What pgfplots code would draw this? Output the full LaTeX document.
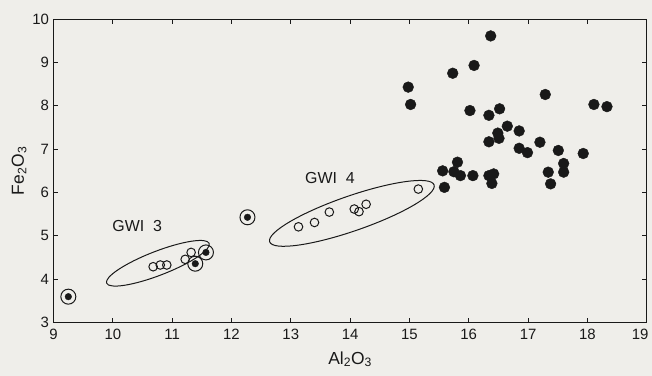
\documentclass[border=0pt]{standalone}
\usepackage{pgfplots}
\pgfplotsset{compat=1.18}
\usepackage{fontspec}
\setmainfont{Liberation Sans}
\usetikzlibrary{shapes.geometric,backgrounds}
\definecolor{bg}{RGB}{239,238,234}
\definecolor{ink}{RGB}{25,25,25}
\begin{document}
\begin{tikzpicture}
\begin{axis}[
  scale only axis,
  width=593.2bp, height=303.7bp,
  xmin=9, xmax=19, ymin=3, ymax=10,
  xtick={9,...,19}, ytick={3,...,10},
  xticklabels={9,10,11,12,13,14,15,16,17,18,{\hspace*{-13bp}19}},
  tick align=inside,
  major tick length=4.5bp,
  axis line style={ink, line width=1bp},
  every tick/.style={ink, line width=1bp},
  /pgf/number format/assume math mode=true,
  tick label style={font=\fontsize{15}{17}\selectfont, text=ink},
  xticklabel style={yshift=-3bp},
  yticklabel style={xshift=-1bp},
  label style={font=\fontsize{17.5}{19}\selectfont, text=ink},
  xlabel={Al\textsubscript{2}O\textsubscript{3}},
  ylabel={Fe\textsubscript{2}O\textsubscript{3}},
  xlabel style={yshift=-5bp},
  ylabel style={yshift=-1bp},
  clip=false,
]
% filled points
\addplot[only marks, mark=*, mark size=5.4bp, mark options={fill=ink, draw=ink, line width=0.4bp}] coordinates {
(16.37,9.61) (16.09,8.93) (15.73,8.75) (14.98,8.43) (15.02,8.03)
(17.29,8.26) (18.11,8.03) (18.33,7.98) (16.02,7.89) (16.52,7.93)
(16.34,7.78) (16.65,7.53) (16.85,7.42) (16.49,7.37) (16.51,7.25)
(16.34,7.17) (17.20,7.16) (16.85,7.02) (16.99,6.92) (17.51,6.97)
(17.93,6.90) (15.81,6.70) (17.60,6.67) (15.56,6.50) (15.75,6.48)
(15.86,6.39) (16.07,6.39) (16.34,6.39) (16.42,6.43) (16.39,6.21)
(17.34,6.47) (17.60,6.47) (17.38,6.20) (15.59,6.12)
};
% open circles GWI 3
\addplot[only marks, mark=o, mark size=4.3bp, mark options={draw=ink, line width=1bp}] coordinates {
(10.68,4.29) (10.80,4.33) (10.91,4.33) (11.22,4.46) (11.32,4.62)
};
% open circles GWI 4
\addplot[only marks, mark=o, mark size=4.3bp, mark options={draw=ink, line width=1bp}] coordinates {
(13.13,5.21) (13.40,5.31) (13.65,5.55) (14.07,5.62) (14.15,5.56) (14.27,5.73) (15.15,6.08)
};
% circled points: ring
\addplot[only marks, mark=o, mark size=7.5bp, mark options={draw=ink, line width=1bp}] coordinates {
(9.25,3.60) (12.27,5.43) (11.39,4.36) (11.57,4.62)
};
% circled points: inner dot
\addplot[only marks, mark=*, mark size=3.3bp, mark options={fill=ink, draw=ink}] coordinates {
(9.25,3.60) (12.27,5.43) (11.39,4.36) (11.57,4.62)
};
% ellipses
\node[draw=ink, line width=1bp, ellipse, rotate=21.2, minimum width=110bp, minimum height=24bp, inner sep=0pt] at (axis cs:10.76,4.37) {};
\node[draw=ink, line width=1bp, ellipse, rotate=19.1, minimum width=174bp, minimum height=35bp, inner sep=0pt] at (axis cs:14.03,5.52) {};
% labels
\node[font=\fontsize{16}{18}\selectfont, text=ink] at (axis cs:10.41,5.23) {GWI\hspace{0.55em}3};
\node[font=\fontsize{16}{18}\selectfont, text=ink] at (axis cs:13.66,6.33) {GWI\hspace{0.55em}4};
\end{axis}
\pgfresetboundingbox
\path (current axis.south west) ++(-53.5bp,-53.3bp) coordinate (bbsw) rectangle ++(652bp,376bp) coordinate (bbne);
\begin{pgfonlayer}{background}
\fill[bg] (bbsw) rectangle (bbne);
\end{pgfonlayer}
\end{tikzpicture}
\end{document}
